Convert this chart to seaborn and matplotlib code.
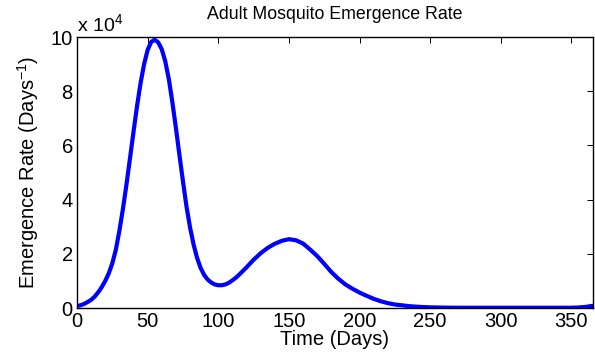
"""
Adult mosquito emergence rate over one year (MATLAB-style line plot).
"""

import matplotlib
matplotlib.use("Agg")
import matplotlib.pyplot as plt
import pandas as pd
import seaborn as sns

# day of year: every 2.5 days up to day 120, then every 5 days
DAYS = [i * 2.5 for i in range(49)] + list(range(125, 366, 5))
# emergence rate in units of 10^4 per day
RATE_E4 = [
    # 0 .. 120 (step 2.5)
    0.08, 0.10, 0.15, 0.22, 0.30, 0.42, 0.58, 0.77, 1.00, 1.28,
    1.65, 2.15, 2.85, 3.65, 4.55, 5.52, 6.50, 7.45, 8.30, 9.00,
    9.52, 9.82, 9.90, 9.80, 9.55, 9.10, 8.45, 7.60, 6.65, 5.65,
    4.68, 3.75, 2.98, 2.35, 1.85, 1.48, 1.22, 1.05, 0.94, 0.87,
    0.84, 0.84, 0.87, 0.93, 1.02, 1.12, 1.24, 1.37, 1.50,
    # 125 .. 365 (step 5)
    1.78, 2.02, 2.22, 2.37, 2.48, 2.54, 2.50, 2.38, 2.16, 1.92,
    1.63, 1.33, 1.08, 0.87, 0.71, 0.57, 0.45, 0.34, 0.25, 0.18,
    0.13, 0.10, 0.07, 0.05, 0.035, 0.025, 0.02, 0.015, 0.012,
    0.01, 0.01, 0.01, 0.01, 0.01, 0.01, 0.01, 0.01, 0.01, 0.01,
    0.01, 0.01, 0.01, 0.01, 0.01, 0.01, 0.01,
    0.02, 0.04, 0.08,
]
X_TICKS = [0, 50, 100, 150, 200, 250, 300, 350]
Y_TICKS = [0, 2, 4, 6, 8, 10]

TITLE = "Adult Mosquito Emergence Rate"
X_LABEL = "Time (Days)"
Y_LABEL = r"Emergence Rate (Days$^{-1}$)"


def main() -> None:
    sns.set_style("white")
    plt.rcParams["font.family"] = ["Liberation Sans", "DejaVu Sans"]
    plt.rcParams["mathtext.default"] = "regular"
    for key in ("text.color", "axes.labelcolor", "xtick.color", "ytick.color"):
        plt.rcParams[key] = "black"

    df = pd.DataFrame({"day": DAYS, "rate": RATE_E4})

    fig = plt.figure(figsize=(5.95, 3.56), dpi=100)
    ax = fig.add_axes([0.1294, 0.1348, 0.8666, 0.7612])

    sns.lineplot(data=df, x="day", y="rate", ax=ax, color="#0000ff",
                 linewidth=3, solid_joinstyle="round", solid_capstyle="round")

    ax.set_xlim(0, 365)
    ax.set_ylim(0, 10)
    ax.set_xticks(X_TICKS)
    ax.set_yticks(Y_TICKS)
    ax.tick_params(direction="in", length=4, width=0.7, labelsize=14.5,
                   top=True, right=True, color="black", labelcolor="black", pad=3)
    for spine in ax.spines.values():
        spine.set_color("black")
        spine.set_linewidth(1.0)
        spine.set_visible(True)

    ax.set_title(TITLE, fontsize=12.8, pad=13, color="black")
    ax.set_xlabel(X_LABEL, fontsize=14.5, labelpad=-1, color="black")
    ax.set_ylabel(Y_LABEL, fontsize=14.5, labelpad=7, color="black")
    ax.text(0.0, 1.008, r"x 10$^4$", transform=ax.transAxes,
            ha="left", va="bottom", fontsize=14, color="black")

    fig.savefig("out.png", dpi=100)
    plt.close(fig)


if __name__ == "__main__":
    main()
